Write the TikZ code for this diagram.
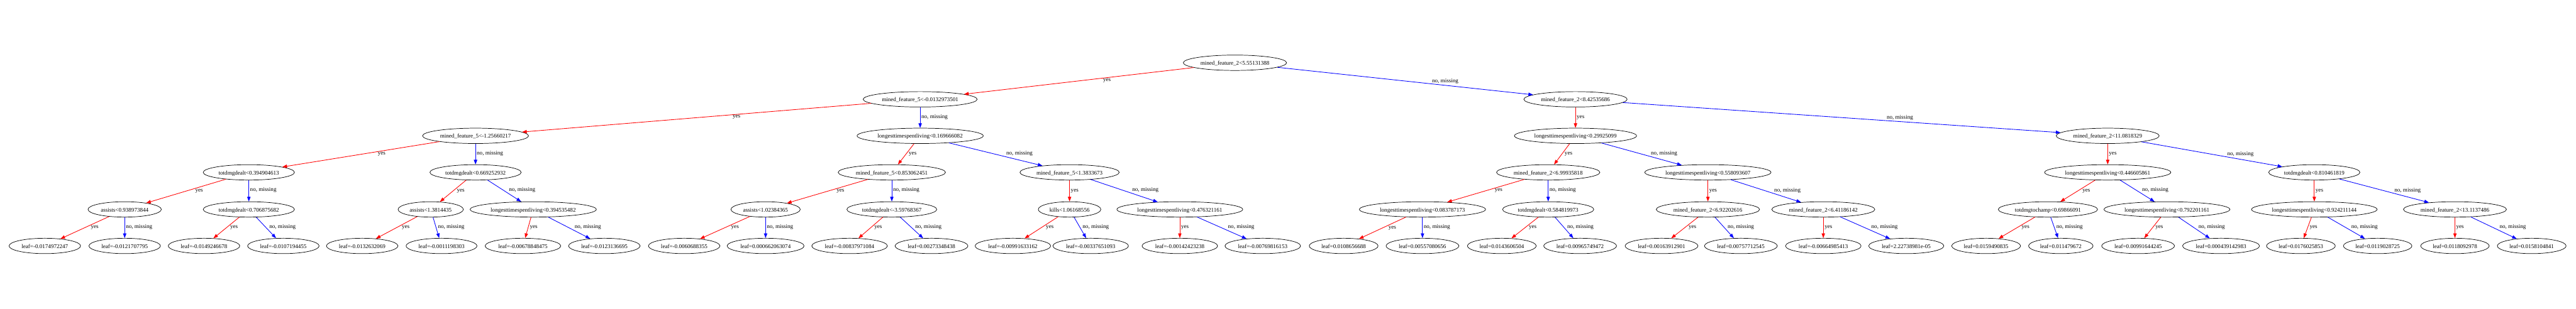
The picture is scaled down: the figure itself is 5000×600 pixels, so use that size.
\documentclass[tikz,border=0pt]{standalone}
\usepackage{fontspec}
\setmainfont{Liberation Serif}
\usetikzlibrary{shapes,arrows,arrows.meta}

\begin{document}
\begin{tikzpicture}[x=0.02cm, y=-0.02cm, font=\fontsize{6.3}{7.5}\selectfont]
	\tikzstyle{splitnode} = [ellipse, draw, line width=0.5pt, inner xsep=0.08cm, inner ysep=0.05cm, minimum height=0.56cm, text height=1.55ex, text depth=0.45ex]
	\tikzstyle{leafnode} = [splitnode]
	\tikzstyle{yesline} = [draw=red, line width=0.6pt, -{Triangle[length=0.18cm, width=0.13cm, color=red]}]
	\tikzstyle{noline} = [draw=blue, line width=0.6pt, -{Triangle[length=0.18cm, width=0.13cm, color=blue]}]
	\tikzstyle{yeslabel} = [pos=0.4, anchor=north west, inner xsep=0.04cm, inner ysep=0pt, text=black]
	\tikzstyle{nolabel} = [pos=0.6, anchor=south west, inner xsep=0.04cm, inner ysep=0pt, text=black]

	\useasboundingbox (0,0) rectangle (5000,600);

	% splits
	\node [splitnode] (root) at (2397,122) {mined\_feature\_2<5.55131388};
	\node [splitnode] (y) at (1786,193) {mined\_feature\_5<-0.0132973501};
	\node [splitnode] (n) at (3058,193) {mined\_feature\_2<8.42535686};
	\node [splitnode] (yy) at (923,264) {mined\_feature\_5<-1.25660217};
	\node [splitnode] (yn) at (1786,264) {longesttimespentliving<0.169666082};
	\node [splitnode] (ny) at (3058,264) {longesttimespentliving<0.29925099};
	\node [splitnode] (nn) at (4091,264) {mined\_feature\_2<11.0818329};
	\node [splitnode] (yyy) at (483,335) {totdmgdealt<0.394904613};
	\node [splitnode] (yyn) at (923,335) {totdmgdealt<0.669252932};
	\node [splitnode] (yny) at (1731,335) {mined\_feature\_5<0.853062451};
	\node [splitnode] (ynn) at (2076,335) {mined\_feature\_5<1.3833673};
	\node [splitnode] (nyy) at (3005,335) {mined\_feature\_2<6.99935818};
	\node [splitnode] (nyn) at (3315,335) {longesttimespentliving<0.558093607};
	\node [splitnode] (nny) at (4091,335) {longesttimespentliving<0.446605861};
	\node [splitnode] (nnn) at (4492,335) {totdmgdealt<0.810461819};
	\node [splitnode] (yyyy) at (242,407) {assists<0.938973844};
	\node [splitnode] (yyyn) at (483,407) {totdmgdealt<0.706875682};
	\node [splitnode] (yyny) at (836,407) {assists<1.3814435};
	\node [splitnode] (yynn) at (1035,407) {longesttimespentliving<0.394535482};
	\node [splitnode] (ynyy) at (1486,407) {assists<1.02384365};
	\node [splitnode] (ynyn) at (1731,407) {totdmgdealt<-3.59768367};
	\node [splitnode] (ynny) at (2076,407) {kills<1.06168556};
	\node [splitnode] (ynnn) at (2290,407) {longesttimespentliving<0.476321161};
	\node [splitnode] (nyyy) at (2761,407) {longesttimespentliving<0.083787173};
	\node [splitnode] (nyyn) at (3005,407) {totdmgdealt<0.584819973};
	\node [splitnode] (nyny) at (3315,407) {mined\_feature\_2<6.92202616};
	\node [splitnode] (nynn) at (3539,407) {mined\_feature\_2<6.41186142};
	\node [splitnode] (nnyy) at (3975,407) {totdmgtochamp<0.69866091};
	\node [splitnode] (nnyn) at (4206,407) {longesttimespentliving<0.792201161};
	\node [splitnode] (nnny) at (4492,407) {longesttimespentliving<0.924211144};
	\node [splitnode] (nnnn) at (4765,407) {mined\_feature\_2<13.1137486};

	% leaves
	\node [leafnode] (yyyyy) at (87,478) {leaf=-0.0174972247};
	\node [leafnode] (yyyyn) at (242,478) {leaf=-0.0121707795};
	\node [leafnode] (yyyny) at (396,478) {leaf=-0.0149246678};
	\node [leafnode] (yyynn) at (550,478) {leaf=-0.0107194455};
	\node [leafnode] (yynyy) at (703,478) {leaf=-0.0132632069};
	\node [leafnode] (yynyn) at (857,478) {leaf=-0.0011198303};
	\node [leafnode] (yynny) at (1015,478) {leaf=-0.00678848475};
	\node [leafnode] (yynnn) at (1173,478) {leaf=-0.0123136695};
	\node [leafnode] (ynyyy) at (1328,478) {leaf=-0.0060688355};
	\node [leafnode] (ynyyn) at (1486,478) {leaf=0.000662063074};
	\node [leafnode] (ynyny) at (1649,478) {leaf=-0.00837971084};
	\node [leafnode] (ynynn) at (1808,478) {leaf=0.00273348438};
	\node [leafnode] (ynnyy) at (1966,478) {leaf=-0.00991633162};
	\node [leafnode] (ynnyn) at (2117,478) {leaf=-0.00337651093};
	\node [leafnode] (ynnny) at (2290,478) {leaf=-0.00142423238};
	\node [leafnode] (ynnnn) at (2451,478) {leaf=-0.00769816153};
	\node [leafnode] (nyyyy) at (2608,478) {leaf=0.0108656688};
	\node [leafnode] (nyyyn) at (2761,478) {leaf=0.00557080656};
	\node [leafnode] (nyyny) at (2915,478) {leaf=0.0143606504};
	\node [leafnode] (nyynn) at (3067,478) {leaf=0.00965749472};
	\node [leafnode] (nynyy) at (3225,478) {leaf=0.00163912901};
	\node [leafnode] (nynyn) at (3379,478) {leaf=0.00757712545};
	\node [leafnode] (nynny) at (3539,478) {leaf=-0.00664985413};
	\node [leafnode] (nynnn) at (3700,478) {leaf=2.22738981e-05};
	\node [leafnode] (nnyyy) at (3855,478) {leaf=0.0159490835};
	\node [leafnode] (nnyyn) at (4000,478) {leaf=0.011479672};
	\node [leafnode] (nnyny) at (4150,478) {leaf=0.00991644245};
	\node [leafnode] (nnynn) at (4311,478) {leaf=0.000439142983};
	\node [leafnode] (nnnyy) at (4466,478) {leaf=0.0176025853};
	\node [leafnode] (nnnyn) at (4615,478) {leaf=0.0119028725};
	\node [leafnode] (nnnny) at (4765,478) {leaf=0.0118092978};
	\node [leafnode] (nnnnn) at (4914,478) {leaf=0.0158104841};

	% edges
	\path [yesline] (root) -- node[yeslabel] {yes} (y);
	\path [noline] (root) -- node[nolabel] {no, missing} (n);
	\path [yesline] (y) -- node[yeslabel] {yes} (yy);
	\path [noline] (y) -- node[nolabel] {no, missing} (yn);
	\path [yesline] (n) -- node[yeslabel] {yes} (ny);
	\path [noline] (n) -- node[nolabel] {no, missing} (nn);
	\path [yesline] (yy) -- node[yeslabel] {yes} (yyy);
	\path [noline] (yy) -- node[nolabel] {no, missing} (yyn);
	\path [yesline] (yn) -- node[yeslabel] {yes} (yny);
	\path [noline] (yn) -- node[nolabel] {no, missing} (ynn);
	\path [yesline] (ny) -- node[yeslabel] {yes} (nyy);
	\path [noline] (ny) -- node[nolabel] {no, missing} (nyn);
	\path [yesline] (nn) -- node[yeslabel] {yes} (nny);
	\path [noline] (nn) -- node[nolabel] {no, missing} (nnn);
	\path [yesline] (yyy) -- node[yeslabel] {yes} (yyyy);
	\path [noline] (yyy) -- node[nolabel] {no, missing} (yyyn);
	\path [yesline] (yyn) -- node[yeslabel] {yes} (yyny);
	\path [noline] (yyn) -- node[nolabel] {no, missing} (yynn);
	\path [yesline] (yny) -- node[yeslabel] {yes} (ynyy);
	\path [noline] (yny) -- node[nolabel] {no, missing} (ynyn);
	\path [yesline] (ynn) -- node[yeslabel] {yes} (ynny);
	\path [noline] (ynn) -- node[nolabel] {no, missing} (ynnn);
	\path [yesline] (nyy) -- node[yeslabel] {yes} (nyyy);
	\path [noline] (nyy) -- node[nolabel] {no, missing} (nyyn);
	\path [yesline] (nyn) -- node[yeslabel] {yes} (nyny);
	\path [noline] (nyn) -- node[nolabel] {no, missing} (nynn);
	\path [yesline] (nny) -- node[yeslabel] {yes} (nnyy);
	\path [noline] (nny) -- node[nolabel] {no, missing} (nnyn);
	\path [yesline] (nnn) -- node[yeslabel] {yes} (nnny);
	\path [noline] (nnn) -- node[nolabel] {no, missing} (nnnn);
	\path [yesline] (yyyy) -- node[yeslabel] {yes} (yyyyy);
	\path [noline] (yyyy) -- node[nolabel] {no, missing} (yyyyn);
	\path [yesline] (yyyn) -- node[yeslabel] {yes} (yyyny);
	\path [noline] (yyyn) -- node[nolabel] {no, missing} (yyynn);
	\path [yesline] (yyny) -- node[yeslabel] {yes} (yynyy);
	\path [noline] (yyny) -- node[nolabel] {no, missing} (yynyn);
	\path [yesline] (yynn) -- node[yeslabel] {yes} (yynny);
	\path [noline] (yynn) -- node[nolabel] {no, missing} (yynnn);
	\path [yesline] (ynyy) -- node[yeslabel] {yes} (ynyyy);
	\path [noline] (ynyy) -- node[nolabel] {no, missing} (ynyyn);
	\path [yesline] (ynyn) -- node[yeslabel] {yes} (ynyny);
	\path [noline] (ynyn) -- node[nolabel] {no, missing} (ynynn);
	\path [yesline] (ynny) -- node[yeslabel] {yes} (ynnyy);
	\path [noline] (ynny) -- node[nolabel] {no, missing} (ynnyn);
	\path [yesline] (ynnn) -- node[yeslabel] {yes} (ynnny);
	\path [noline] (ynnn) -- node[nolabel] {no, missing} (ynnnn);
	\path [yesline] (nyyy) -- node[yeslabel] {yes} (nyyyy);
	\path [noline] (nyyy) -- node[nolabel] {no, missing} (nyyyn);
	\path [yesline] (nyyn) -- node[yeslabel] {yes} (nyyny);
	\path [noline] (nyyn) -- node[nolabel] {no, missing} (nyynn);
	\path [yesline] (nyny) -- node[yeslabel] {yes} (nynyy);
	\path [noline] (nyny) -- node[nolabel] {no, missing} (nynyn);
	\path [yesline] (nynn) -- node[yeslabel] {yes} (nynny);
	\path [noline] (nynn) -- node[nolabel] {no, missing} (nynnn);
	\path [yesline] (nnyy) -- node[yeslabel] {yes} (nnyyy);
	\path [noline] (nnyy) -- node[nolabel] {no, missing} (nnyyn);
	\path [yesline] (nnyn) -- node[yeslabel] {yes} (nnyny);
	\path [noline] (nnyn) -- node[nolabel] {no, missing} (nnynn);
	\path [yesline] (nnny) -- node[yeslabel] {yes} (nnnyy);
	\path [noline] (nnny) -- node[nolabel] {no, missing} (nnnyn);
	\path [yesline] (nnnn) -- node[yeslabel] {yes} (nnnny);
	\path [noline] (nnnn) -- node[nolabel] {no, missing} (nnnnn);

\end{tikzpicture}
\end{document}
